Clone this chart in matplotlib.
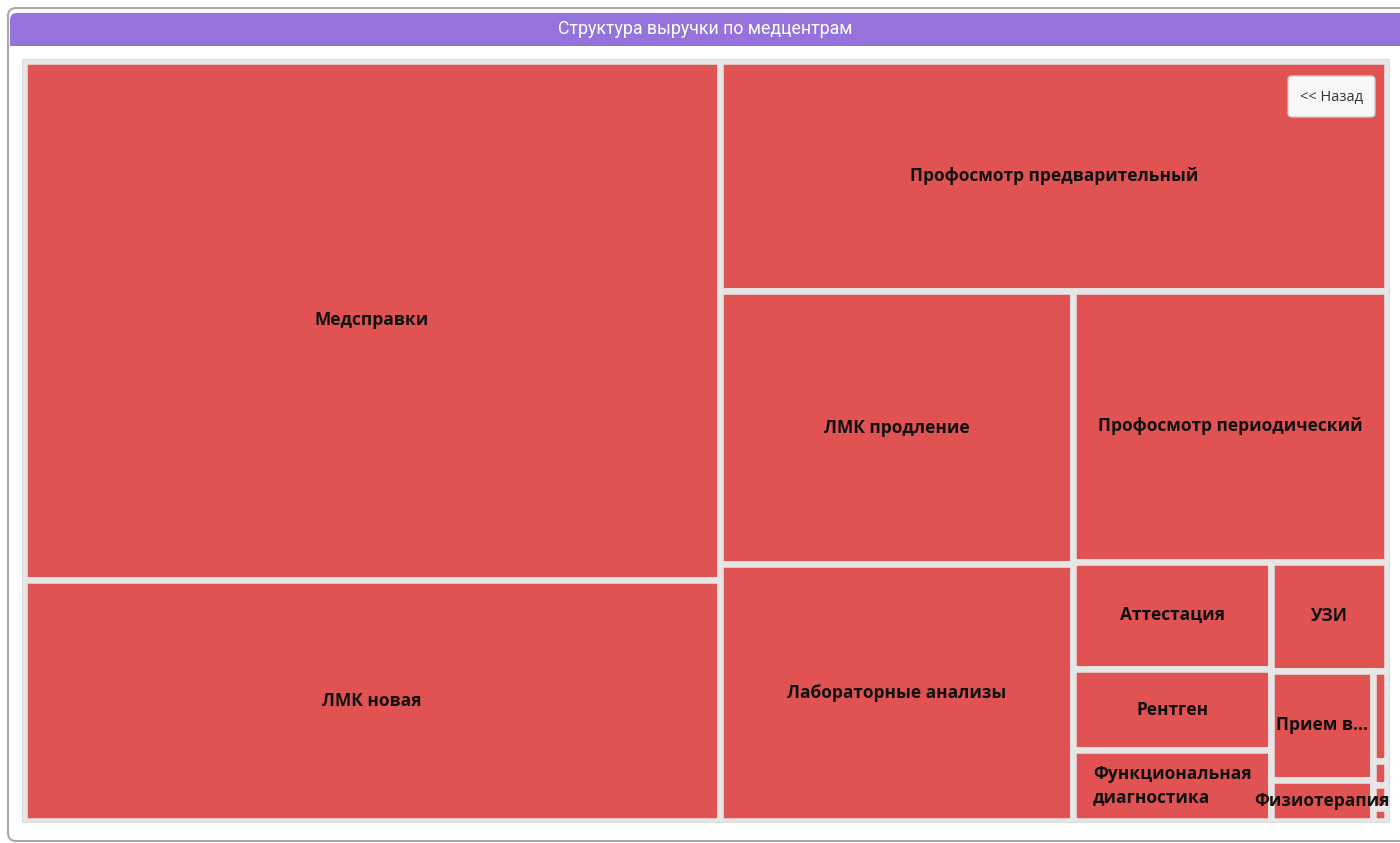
import matplotlib
matplotlib.use("Agg")
import matplotlib.pyplot as plt
from matplotlib.patches import Rectangle, FancyBboxPatch

# выручка по услугам (тыс. руб.), порядок как в treemap
services = ["Медсправки", "ЛМК новая", "Профосмотр предварительный", "ЛМК продление",
            "Лабораторные анализы", "Профосмотр периодический", "Аттестация", "Рентген",
            "Функциональная диагностика", "УЗИ", "Прием врача", "Физиотерапия",
            "Вакцинация", "Психиатр", "Нарколог", "Прочее"]
revenue = [3489, 1620, 1480, 930, 875, 820, 205, 155, 135, 122, 108, 41, 12, 3.2, 3.0, 1.8]
labels = ["Медсправки", "ЛМК новая", "Профосмотр предварительный", "ЛМК продление",
          "Лабораторные анализы", "Профосмотр периодический", "Аттестация", "Рентген",
          "Функциональная\nдиагностика", "УЗИ", "Прием в...", "Физиотерапия",
          "", "", "", ""]
title = "Структура выручки по медцентрам"
back_text = "<< Назад"

RED = "#e05352"
GAP = "#e6e6e6"
PURPLE = "#9673dc"

LABEL_FONT = ["Open Sans", "Noto Sans", "DejaVu Sans"]
TITLE_FONT = ["Liberation Sans Narrow", "Roboto", "DejaVu Sans"]


def aspect(a, b):
    return max(a / b, b / a)


def squarified(values, x0, y0, w0, h0):
    # squarified layout with alternating direction (column, row, column, ...)
    total = float(sum(values))
    rx, ry, rw, rh = x0, y0, w0, h0
    direction = 0
    rects = []
    group = []

    def place(grp, rx, ry, rw, rh, direction):
        s = sum(grp)
        if direction == 0:
            gw = s / rh
            yy = ry
            for a in grp:
                rects.append((rx, yy, gw, a / gw))
                yy += a / gw
            return rx + gw, ry, rw - gw, rh
        gh = s / rw
        xx = rx
        for a in grp:
            rects.append((xx, ry, a / gh, gh))
            xx += a / gh
        return rx, ry + gh, rw, rh - gh

    for v in values:
        a = w0 * h0 * v / total
        if group:
            prev = group[-1]
            s_old = sum(group)
            s_new = s_old + a
            side = rh if direction == 0 else rw
            old_t = s_old / side
            new_t = s_new / side
            old_r = aspect(old_t, prev / old_t)
            new_r = aspect(new_t, prev / new_t)
            if new_r > old_r:
                rx, ry, rw, rh = place(group, rx, ry, rw, rh, direction)
                direction = 1 - direction
                group = []
        group.append(a)
    place(group, rx, ry, rw, rh, direction)
    return rects


rects = squarified(revenue, 0, 0, 100, 100)

W, H = 1400, 843
fig = plt.figure(figsize=(W / 100, H / 100), dpi=100)
fig.patch.set_facecolor("white")

# рамка панели и заголовок
frame = fig.add_axes([0, 0, 1, 1])
frame.set_xlim(0, W)
frame.set_ylim(H, 0)
frame.axis("off")
frame.add_patch(FancyBboxPatch((8, 8), W + 20, 833, boxstyle="round,pad=0,rounding_size=8",
                               facecolor="white", edgecolor="#a8a8a8", linewidth=1.5))
frame.add_patch(FancyBboxPatch((10, 13), W + 20, 33, boxstyle="round,pad=0,rounding_size=7",
                               facecolor=PURPLE, edgecolor="none"))
frame.add_patch(Rectangle((10, 30), W + 20, 16, facecolor=PURPLE, edgecolor="none"))
frame.add_patch(Rectangle((21.5, 58.5), 1367, 763.5, facecolor=GAP, edgecolor="#dcdcdc",
                          linewidth=0.8))
frame.text(705, 29.5, title, ha="center", va="center", color="white",
           fontsize=12.8, family=TITLE_FONT)

# treemap
ax = fig.add_axes([23.75 / W, (H - 821.25) / H, 1363.5 / W, 760.5 / H])
ax.set_xlim(0, 100)
ax.set_ylim(100, 0)
ax.set_facecolor(GAP)
ax.set_xticks([])
ax.set_yticks([])
for s in ax.spines.values():
    s.set_visible(False)

for (x, y, w, h), lab in zip(rects, labels):
    ax.add_patch(Rectangle((x, y), w, h, facecolor=RED, edgecolor=GAP,
                           linewidth=4.7, joinstyle="miter"))
    if lab and w > 3:
        ax.text(x + w / 2, y + h / 2, lab, ha="center", va="center",
                multialignment="left", fontsize=12.5, fontweight="bold",
                color="#111111", family=LABEL_FONT, linespacing=1.35)

# кнопка "Назад"
top = fig.add_axes([0, 0, 1, 1])
top.set_xlim(0, W)
top.set_ylim(H, 0)
top.axis("off")
top.add_patch(FancyBboxPatch((1288, 76), 87, 41, boxstyle="round,pad=0,rounding_size=4",
                             facecolor="#f7f7f7", edgecolor="#cccccc", linewidth=1))
top.text(1331.5, 97, back_text, ha="center", va="center", fontsize=10.5,
         color="#333333", family=LABEL_FONT)

fig.savefig("out.png", dpi=100)
